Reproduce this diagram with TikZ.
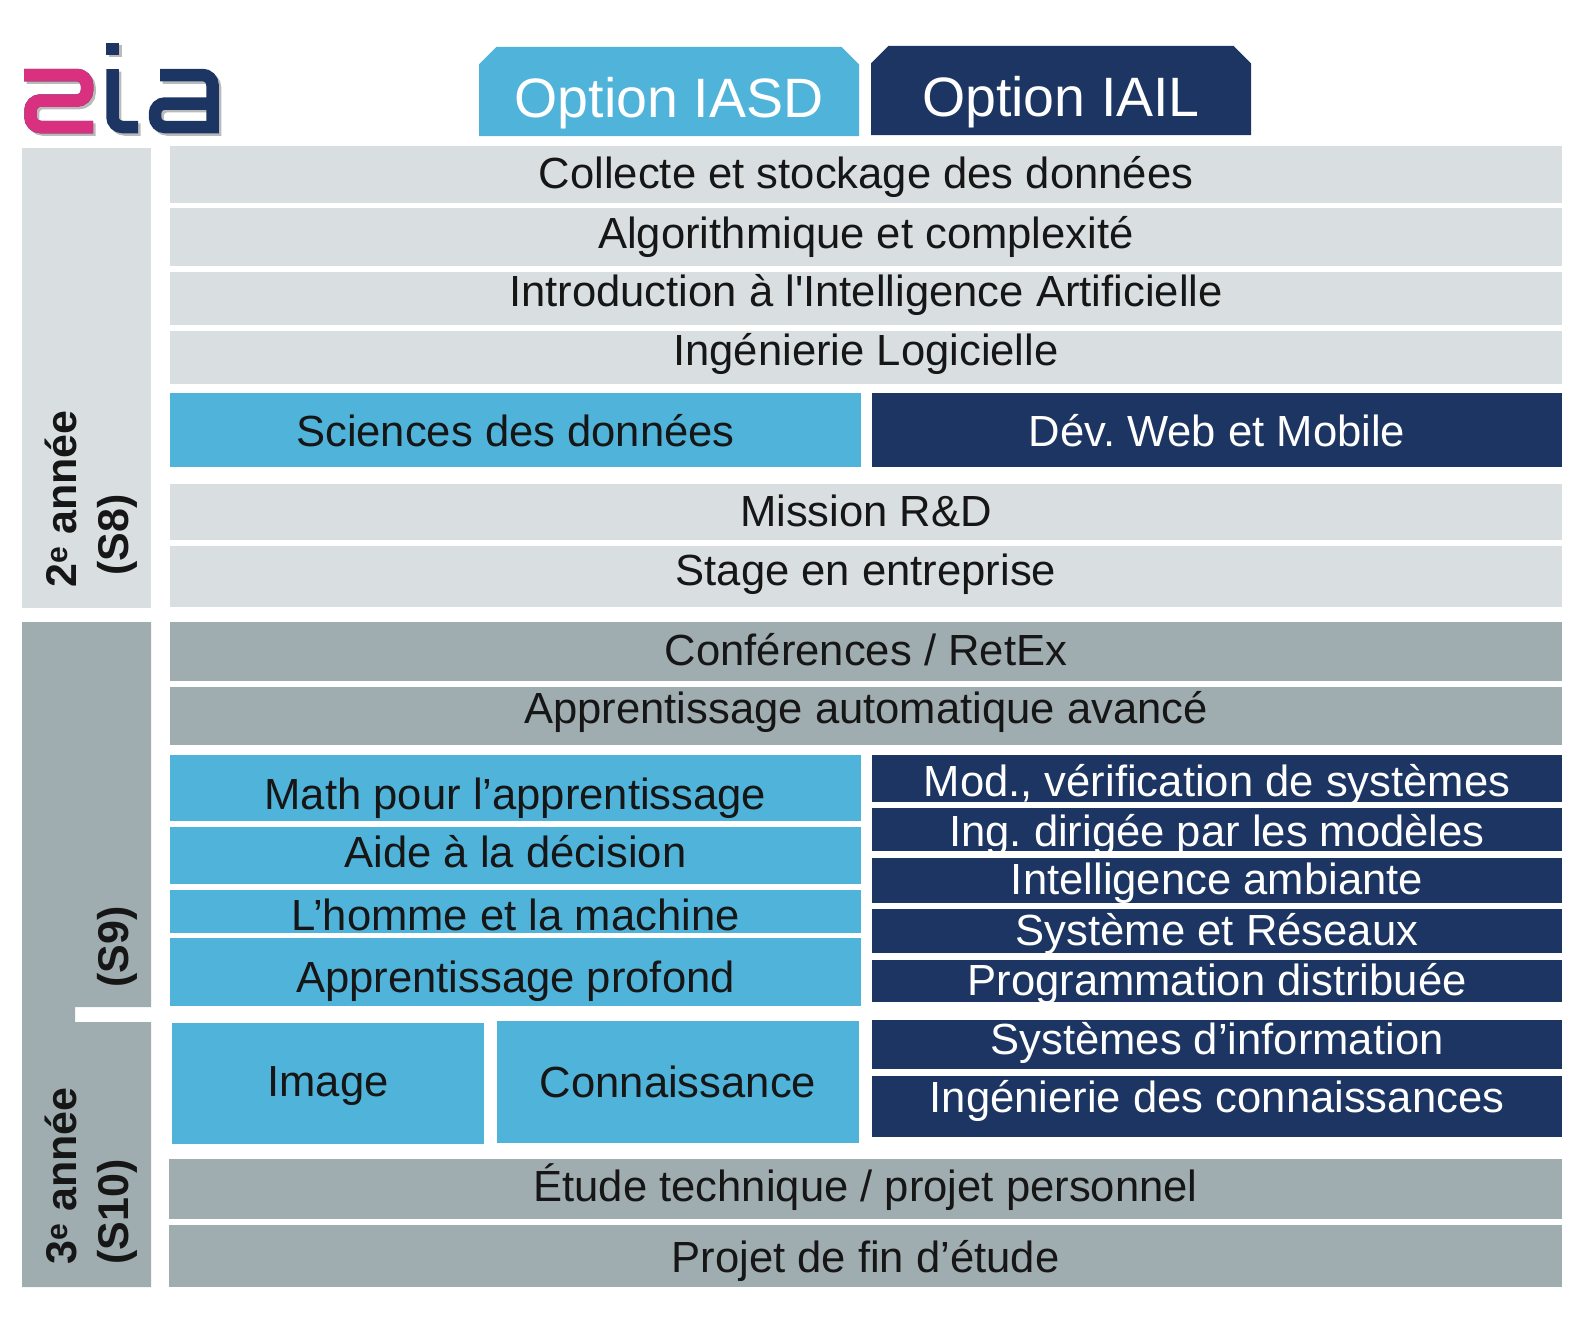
\documentclass[tikz,border=0pt]{standalone}
\usepackage{fontspec}
\setmainfont{Liberation Sans}
\usetikzlibrary{shapes.misc}
\definecolor{lightbar}{HTML}{D9DFE0}
\definecolor{midbar}{HTML}{9FACB0}
\definecolor{skybar}{HTML}{4FB3DA}
\definecolor{navybar}{HTML}{1C3562}
\definecolor{logopink}{HTML}{D9307F}
\definecolor{inktext}{HTML}{161616}
\frenchspacing
\tikzset{
    rowtext/.style={inner sep=0pt,text=inktext,font=\fontsize{43.6}{50}\selectfont},
    navytext/.style={rowtext,text=white},
    sidetext/.style={inner sep=0pt,rotate=90,text=inktext,font=\fontsize{43}{50}\selectfont\bfseries},
    tabbox/.style={chamfered rectangle,chamfered rectangle corners={north west,north east},
        chamfered rectangle xsep=8.7pt,chamfered rectangle ysep=8.7pt,
        inner sep=0pt,text=white,text height=60pt,text depth=9pt,font=\fontsize{55.5}{60}\selectfont},
    logostroke/.style={line width=12.5pt},
}
% name, colour, x1, y1, x2, y2, y of the text, style of the text, text
\newcommand{\rowband}[9]{
    \fill[#2] (#3,#4) rectangle (#5,#6);
    \node[#8] (#1) at ({(#3+#5)/2},#7) {#9};
}
\newcommand{\logoshape}{
    \draw[logostroke] (24,75) [rounded corners=10pt] -- (87,75) -- (87,100.5) -- (30.5,100.5) -- (30.5,127) [sharp corners] -- (93,127);
    \fill (106,43) rectangle (119,55);
    \draw[logostroke] (112.5,69) [rounded corners=10pt] -- (112.5,127) [sharp corners] -- (138,127);
    \draw[logostroke] (160,75) [rounded corners=10pt] -- (212.5,75) [sharp corners] -- (212.5,127) [rounded corners=10pt] -- (155,127) -- (155,103.5) [sharp corners] -- (212.5,103.5);
}
\begin{document}
\begin{tikzpicture}[x=1pt,y=-1pt]
    \useasboundingbox (0,0) rectangle (1594,1338);

    % logo
    \begin{scope}[shift={(2.5,2.5)},black!45,opacity=0.6]
        \logoshape
    \end{scope}
    \begin{scope}[navybar]
        \logoshape
    \end{scope}
    \draw[logostroke,logopink] (24,75) [rounded corners=10pt] -- (87,75) -- (87,100.5) -- (30.5,100.5) -- (30.5,127) [sharp corners] -- (93,127);

    % tabs
    \node[tabbox,fill=skybar,minimum width=380pt,minimum height=89pt] (tabIASD) at (669,91.5) {Option IASD};
    \node[tabbox,fill=navybar,minimum width=380pt,minimum height=89pt] (tabIAIL) at (1061,90.5) {Option IAIL};

    % year panels
    \fill[lightbar] (22,148) rectangle (151,608);
    \fill[midbar] (22,622) -- (151,622) -- (151,1007) -- (75,1007) -- (75,1022) -- (151,1022) -- (151,1287) -- (22,1287) -- cycle;
    \node[sidetext] (yearTwo) at (61,499) {2\textsuperscript{e} année};
    \node[sidetext] (semEight) at (117,535) {(S8)};
    \node[sidetext] (semNine) at (117,947) {(S9)};
    \node[sidetext] (yearThree) at (61,1176) {3\textsuperscript{e} année};
    \node[sidetext] (semTen) at (117,1212) {(S10)};

    % second year
    \rowband{collecte}{lightbar}{170}{145.5}{1562}{202.5}{177}{rowtext}{Collecte et stockage des données}
    \rowband{algo}{lightbar}{170}{208}{1562}{266}{236.5}{rowtext}{Algorithmique et complexité}
    \rowband{intro}{lightbar}{170}{271.5}{1562}{325}{295}{rowtext}{Introduction à l\textquotesingle Intelligence Artificielle}
    \rowband{logiciel}{lightbar}{170}{331}{1562}{384}{353.5}{rowtext}{Ingénierie Logicielle}
    \rowband{sciences}{skybar}{170}{392.5}{861}{466.5}{431}{rowtext}{Sciences des données}
    \rowband{devweb}{navybar}{872}{392.5}{1562}{467}{431}{navytext}{Dév. Web et Mobile}
    \rowband{mission}{lightbar}{170}{484}{1562}{540}{511}{rowtext}{Mission R\&D}
    \rowband{stage}{lightbar}{170}{546}{1562}{607}{574}{rowtext}{Stage en entreprise}

    % third year
    \rowband{conf}{midbar}{170}{622}{1562}{681}{650}{rowtext}{Conférences / RetEx}
    \rowband{avance}{midbar}{170}{687}{1562}{745}{712}{rowtext}{Apprentissage automatique avancé}
    \rowband{math}{skybar}{170}{755}{861}{821}{798}{rowtext}{Math pour l’apprentissage}
    \rowband{aide}{skybar}{170}{827}{861}{884}{852}{rowtext}{Aide à la décision}
    \rowband{homme}{skybar}{170}{890}{861}{933}{915}{rowtext}{L’homme et la machine}
    \rowband{profond}{skybar}{170}{938}{861}{1006}{981}{rowtext}{Apprentissage profond}
    \rowband{image}{skybar}{172}{1023}{484}{1144}{1086}{rowtext}{Image}
    \rowband{connaissance}{skybar}{497}{1021}{859}{1143}{1082}{rowtext}{Connaissance}
    \rowband{modver}{navybar}{872}{755}{1562}{802}{784.5}{navytext}{Mod., vérification de systèmes}
    \rowband{ingdir}{navybar}{872}{808}{1562}{851}{834.5}{navytext}{Ing. dirigée par les modèles}
    \rowband{ambiante}{navybar}{872}{858}{1562}{903}{883.5}{navytext}{Intelligence ambiante}
    \rowband{reseaux}{navybar}{872}{909}{1562}{953}{934}{navytext}{Système et Réseaux}
    \rowband{distrib}{navybar}{872}{960}{1562}{1002}{983.5}{navytext}{Programmation distribuée}
    \rowband{sysinfo}{navybar}{872}{1020}{1562}{1069}{1043}{navytext}{Systèmes d’information}
    \rowband{ingcon}{navybar}{872}{1076}{1562}{1137}{1100.5}{navytext}{Ingénierie des connaissances}
    \rowband{etude}{midbar}{169}{1159}{1562}{1219}{1187.5}{rowtext}{Étude technique / projet personnel}
    \rowband{pfe}{midbar}{169}{1225}{1562}{1287}{1261}{rowtext}{Projet de fin d’étude}
\end{tikzpicture}
\end{document}
